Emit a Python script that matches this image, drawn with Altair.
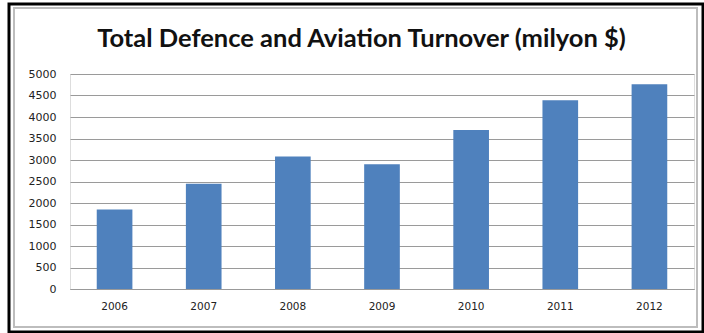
import altair as alt
import pandas as pd

title_text = "Total Defence and Aviation Turnover (milyon $)"
years = ["2006", "2007", "2008", "2009", "2010", "2011", "2012"]
turnover = [1850, 2450, 3080, 2900, 3700, 4390, 4760]
y_ticks = [0, 500, 1000, 1500, 2000, 2500, 3000, 3500, 4000, 4500, 5000]

df = pd.DataFrame({"year": years, "turnover": turnover})

bars = alt.Chart(df).mark_bar(color="#4f81bd").encode(
    x=alt.X("year:N", title=None, sort=years,
            scale=alt.Scale(paddingInner=0.6, paddingOuter=0.3),
            axis=alt.Axis(labelAngle=0, ticks=False, domainColor="#999999",
                          labelPadding=12, labelFont="DejaVu Sans",
                          labelFontSize=10.5, labelColor="#222222")),
    y=alt.Y("turnover:Q", title=None,
            scale=alt.Scale(domain=[0, 5000], nice=False),
            axis=alt.Axis(values=y_ticks, format="d", ticks=False, domain=False,
                          gridColor="#9a9a9a", gridWidth=1, labelPadding=14,
                          labelFont="DejaVu Sans", labelFontSize=11,
                          labelColor="#222222")),
)

frame_data = alt.Data(values=[{"t": title_text}])
outer = alt.Chart(frame_data).mark_rect(filled=False, stroke="black", strokeWidth=3, clip=False).encode(
    x=alt.value(-61), x2=alt.value(633), y=alt.value(-70), y2=alt.value(258)
)
inner = alt.Chart(frame_data).mark_rect(filled=False, stroke="#bdbdbd", strokeWidth=2, clip=False).encode(
    x=alt.value(-56), x2=alt.value(627), y=alt.value(-66), y2=alt.value(253)
)
title = alt.Chart(frame_data).mark_text(
    font="Lato", fontSize=25.5, fontWeight="bold", color="#111111",
    align="center", baseline="alphabetic", clip=False
).encode(x=alt.value(291.5), y=alt.value(-27), text="t:N")

chart = alt.layer(bars, inner, outer, title).properties(
    width=624,
    height=215,
    autosize=alt.AutoSizeParams(type="none"),
    padding={"left": 70, "top": 74, "right": 10, "bottom": 44},
).configure_view(stroke=None).configure(background="white")

chart.save("out.html", embed_options={"renderer": "svg", "actions": False})
